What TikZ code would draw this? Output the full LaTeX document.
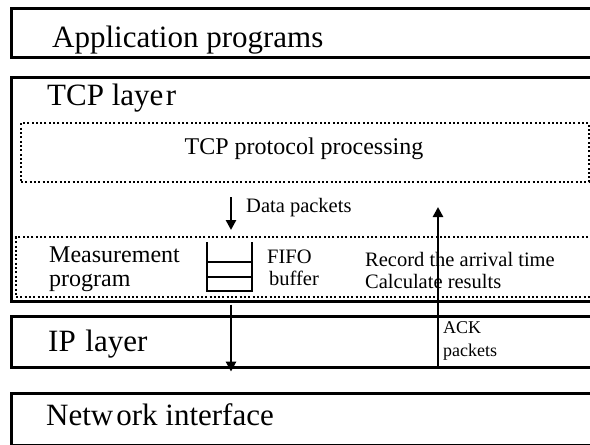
\documentclass[tikz,border=0pt]{standalone}
\usepackage{fontspec}
\setmainfont{Liberation Serif}
\usetikzlibrary{arrows.meta}

\begin{document}
\begin{tikzpicture}[x=1pt,y=-1pt,
    layer/.style={draw,line width=2.6pt,anchor=north west,inner sep=0pt},
    dotbox/.style={draw,line width=2pt,dash pattern=on 2pt off 2.3pt,anchor=north west,inner sep=0pt},
    big/.style={anchor=base west,inner sep=0pt,font=\fontsize{31}{31}\selectfont},
    mid/.style={anchor=base west,inner sep=0pt,font=\fontsize{24}{24}\selectfont},
    small/.style={anchor=base west,inner sep=0pt,font=\fontsize{20.5}{20.5}\selectfont},
    tiny/.style={anchor=base west,inner sep=0pt,font=\fontsize{18}{18}\selectfont},
    pkt/.style={-{Triangle[length=10pt,width=10pt]},line width=2.6pt}]

  \useasboundingbox (0,0) rectangle (590,445);
  \clip (0,0) rectangle (590,445);

  % layers
  \node[layer,minimum width=600pt,minimum height=49pt]  (app) at (10,7)   {};
  \node[layer,minimum width=600pt,minimum height=224pt] (tcp) at (10,76)  {};
  \node[layer,minimum width=600pt,minimum height=51pt]  (ip)  at (10,315) {};
  \node[layer,minimum width=600pt,minimum height=52pt]  (net) at (10,392) {};

  % dotted parts inside the TCP layer
  \node[dotbox,minimum width=568pt,minimum height=59pt] (proc) at (20,122) {};
  \node[dotbox,minimum width=600pt,minimum height=60pt] (meas) at (15,236) {};

  % FIFO buffer
  \draw[line width=2.4pt] (207,242) -- (207,291) -- (252,291) -- (252,242)
                          (207,262) -- (252,262) (207,277) -- (252,277);

  % labels
  \node[big]            (appl)  at (52,47)   {Application programs};
  \node[big]            (tcpl)  at (47,105)  {TCP laye\kern2.5pt r};
  \node[mid,anchor=base] (procl) at (304,154) {TCP protocol processing};
  \node[small]          (datal) at (246,212) {Data packets};
  \node[mid]            (measl) at (49,262)  {Measurement};
  \node[mid]            (progl) at (49,286)  {program};
  \node[small]          (fifol) at (267,263) {FIFO};
  \node[small]          (bufl)  at (269,285) {buffer};
  \node[small]          (recl)  at (365,266) {Record the arrival time};
  \node[small]          (calcl) at (365,288) {Calculate results};
  \node[big]            (ipl)   at (48,351)  {IP\kern2pt{} layer};
  \node[tiny]           (ackl)  at (443,333) {ACK};
  \node[tiny]           (pktl)  at (443,356) {packets};
  \node[big]            (netl)  at (46,425)  {Netw\kern3pt ork interface};

  % packet flow
  \coordinate (down) at (231,197);
  \coordinate (up)   at (438,207);
  \draw[pkt,shorten >=6pt] (down) -- (down |- meas.north);
  \draw[pkt] ([yshift=-2pt] tcp.south -| down) -- ([yshift=-3pt] ip.south -| down);
  \draw[pkt] (ip.south -| up) -- (up);
\end{tikzpicture}
\end{document}
